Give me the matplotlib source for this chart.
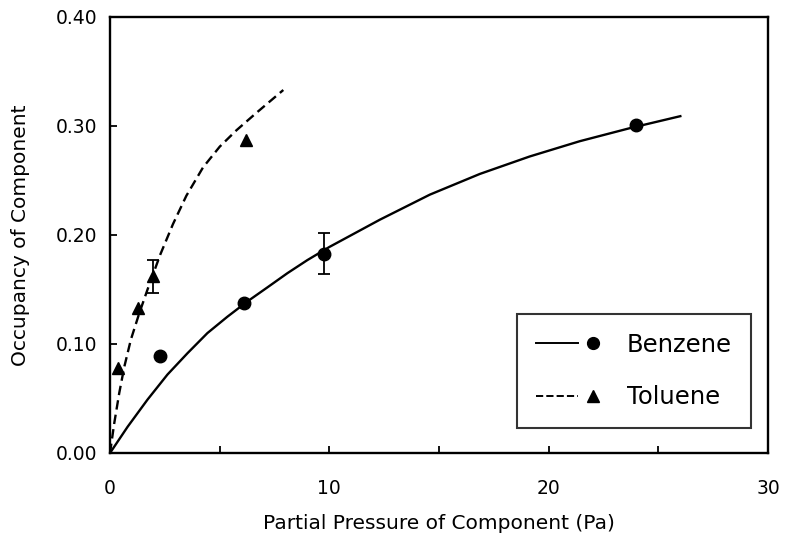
import matplotlib
matplotlib.use("Agg")
import matplotlib.pyplot as plt
from matplotlib.legend_handler import HandlerBase
from matplotlib.lines import Line2D

plt.rcParams['font.family'] = ['DejaVu Sans']

# measured isotherm points (partial pressure in Pa, fractional occupancy)
benzene_p = [2.3, 6.1, 9.75, 24.0]
benzene_q = [0.089, 0.138, 0.183, 0.301]
toluene_p = [0.37, 1.29, 1.96, 6.18]
toluene_q = [0.078, 0.133, 0.162, 0.287]

# replicate scatter on the middle points
benzene_err_p = [9.75]
benzene_err_q = [0.183]
benzene_err = [0.0185]
toluene_err_p = [1.96]
toluene_err_q = [0.162]
toluene_err = [0.0155]

# fitted isotherm curves
benzene_fit_p = [0, 0.8, 1.71, 2.62, 3.53, 4.44, 5.35, 6.26, 7.18, 8.09, 9.0, 10.0,
                 12.3, 14.58, 16.86, 19.13, 21.41, 23.7, 26.0]
benzene_fit_q = [0, 0.024, 0.049, 0.072, 0.0915, 0.110, 0.125, 0.139, 0.152, 0.165, 0.177, 0.189,
                 0.214, 0.237, 0.256, 0.272, 0.286, 0.298, 0.309]
toluene_fit_p = [0, 0.19, 0.42, 0.65, 0.95, 1.33, 1.71, 2.29, 2.87, 3.48, 4.24, 5.0, 5.76, 6.67, 7.9]
toluene_fit_q = [0, 0.027, 0.055, 0.079, 0.104, 0.128, 0.150, 0.182, 0.210, 0.236, 0.262, 0.281,
                 0.296, 0.312, 0.333]

DASH = (0, (4.0, 2.2))


class LineThenMarker(HandlerBase):
    # legend key: line segment followed by the marker
    def create_artists(self, legend, orig_handle, xdescent, ydescent,
                       width, height, fontsize, trans):
        y = height / 2 - ydescent
        x0 = -xdescent
        seg = Line2D([x0, x0 + 0.62 * width], [y, y], color='k',
                     lw=orig_handle.get_linewidth(),
                     ls=orig_handle.get_linestyle())
        mk = Line2D([x0 + 0.85 * width], [y], ls='none', color='k',
                    marker=orig_handle.get_marker(),
                    markersize=orig_handle.get_markersize())
        seg.set_transform(trans)
        mk.set_transform(trans)
        return [seg, mk]


fig = plt.figure(figsize=(7.91, 5.44), dpi=100)
ax = fig.add_axes([0.1391, 0.1673, 0.8319, 0.8015])

ax.plot(benzene_fit_p, benzene_fit_q, color='k', lw=1.7)
ax.plot(toluene_fit_p, toluene_fit_q, color='k', lw=1.7, ls=DASH)

ax.errorbar(benzene_err_p, benzene_err_q, yerr=benzene_err, fmt='none',
            ecolor='k', elinewidth=1.3, capsize=4, capthick=1.3)
ax.errorbar(toluene_err_p, toluene_err_q, yerr=toluene_err, fmt='none',
            ecolor='k', elinewidth=1.3, capsize=4, capthick=1.3)

ax.plot(benzene_p, benzene_q, 'o', color='k', ms=9)
ax.plot(toluene_p, toluene_q, '^', color='k', ms=8)

ax.set_xlim(0, 30)
ax.set_ylim(0, 0.40)
ax.set_xticks([0, 10, 20, 30])
ax.set_xticks([5, 15, 25], minor=True)
ax.set_yticks([0.0, 0.1, 0.2, 0.3, 0.4])
ax.set_yticklabels(['0.00', '0.10', '0.20', '0.30', '0.40'])
ax.tick_params(which='both', direction='in', length=5, width=1.3,
               labelsize=13.5, top=False, right=False)
ax.tick_params(axis='x', pad=19)
ax.tick_params(axis='y', pad=9)
for s in ax.spines.values():
    s.set_linewidth(1.7)

ax.set_xlabel('Partial Pressure of Component (Pa)', fontsize=14.5, labelpad=11)
ax.set_ylabel('Occupancy of Component', fontsize=14.5, labelpad=19)

h_benz = Line2D([], [], color='k', lw=1.4, ls='-', marker='o', ms=8.5)
h_tol = Line2D([], [], color='k', lw=1.4, ls=(0, (4.5, 2.3)), marker='^', ms=8.5)
leg = ax.legend([h_benz, h_tol], ['Benzene', 'Toluene'],
                handler_map={Line2D: LineThenMarker()},
                loc='upper left', bbox_to_anchor=(0.6185, 0.319),
                borderaxespad=0, fontsize=17.5, frameon=True, fancybox=False,
                edgecolor='k', handlelength=2.77, handletextpad=0.98,
                borderpad=0.776, labelspacing=1.18)
leg.get_frame().set_linewidth(1.5)

fig.savefig('out.png', dpi=100)
